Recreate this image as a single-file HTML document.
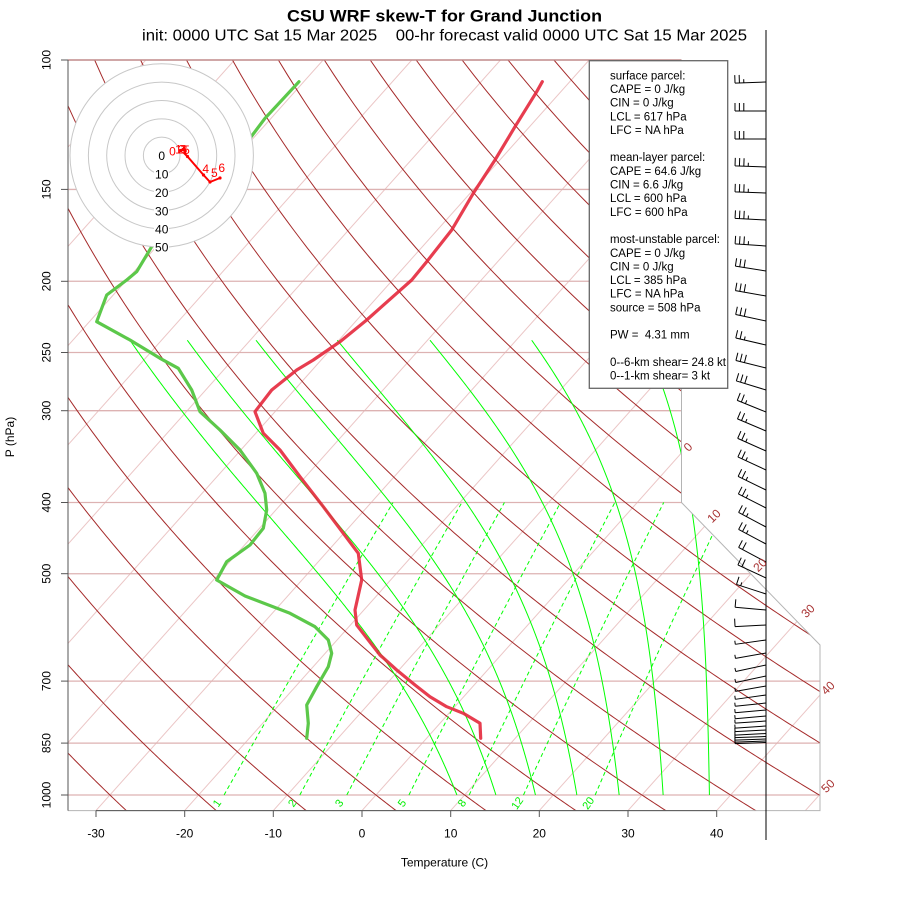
<!DOCTYPE html>
<html><head><meta charset="utf-8">
<style>
html,body{margin:0;padding:0;background:#fff;}
svg{display:block;font-family:"Liberation Sans",Arial,sans-serif;}
</style></head><body>
<svg width="900" height="900" viewBox="0 0 900 900" xmlns="http://www.w3.org/2000/svg">
<defs><clipPath id="cp"><polygon points="68,60 681.5,60 681.5,502.5 820,645 820,810.6 68,810.6"/></clipPath></defs>
<rect x="0" y="0" width="900" height="900" fill="#fff"/>
<g id="grid" clip-path="url(#cp)"></g>
<!-- top pressure line -->
<line x1="68" y1="60" x2="681.5" y2="60" stroke="#C08A8A" stroke-width="1.4"/>
<!-- boundary -->
<polyline points="681.5,60 681.5,502.5 820,645 820,810.6 68,810.6" fill="none" stroke="#B4B4B4" stroke-width="1"/>
<!-- axes -->
<line x1="68" y1="60" x2="68" y2="810.6" stroke="#555" stroke-width="1"/>
<line x1="96" y1="810.6" x2="717" y2="810.6" stroke="#555" stroke-width="1"/>
<g stroke="#555" stroke-width="1">
<line x1="61" y1="60" x2="68" y2="60"/><line x1="61" y1="189.4" x2="68" y2="189.4"/><line x1="61" y1="281.3" x2="68" y2="281.3"/><line x1="61" y1="352.5" x2="68" y2="352.5"/><line x1="61" y1="410.7" x2="68" y2="410.7"/><line x1="61" y1="502.5" x2="68" y2="502.5"/><line x1="61" y1="573.7" x2="68" y2="573.7"/><line x1="61" y1="681.1" x2="68" y2="681.1"/><line x1="61" y1="743.1" x2="68" y2="743.1"/><line x1="61" y1="795" x2="68" y2="795"/>
<line x1="96" y1="810.6" x2="96" y2="817"/><line x1="184.7" y1="810.6" x2="184.7" y2="817"/><line x1="273.3" y1="810.6" x2="273.3" y2="817"/><line x1="362" y1="810.6" x2="362" y2="817"/><line x1="450.7" y1="810.6" x2="450.7" y2="817"/><line x1="539.3" y1="810.6" x2="539.3" y2="817"/><line x1="628" y1="810.6" x2="628" y2="817"/><line x1="716.7" y1="810.6" x2="716.7" y2="817"/>
</g>
<!-- profiles -->
<path d="M542.3 81.7 L536.7 91.7 L515 126.7 L495 160 L473.3 193.3 L451.7 230 L426.7 261.7 L411.7 280 L396.7 293.3 L366.7 320 L340 341.7 L313.3 360 L296.7 370 L271.7 390 L255 411.7 L263.3 433.3 L280 450 L300 476.7 L323.3 506.7 L343.3 533.3 L358.3 553.3 L361.7 580 L355 610 L356.7 625 L368.3 640 L380 655 L396.7 670 L415 685 L430 696.7 L446.7 706.7 L463.3 713.3 L480 723.3 L480.7 738.3" fill="none" stroke="#E4283C" stroke-width="3.2" stroke-linejoin="round" stroke-linecap="round" stroke-opacity="0.9"/>
<path d="M299 81.7 L265 118.3 L251.7 136 L151.7 246.7 L136.7 271.7 L126.7 280 L106.7 295 L96.7 321.7 L130 340 L160 358.3 L178.3 368.3 L191.7 390 L200 411.7 L220 430 L240 450 L256.7 473.3 L265 493.3 L266.7 510 L263.3 528.3 L250 545 L226.7 561.7 L216.7 580 L245 596 L290 613.3 L315 626.7 L328.3 640 L331.7 653.3 L328.3 666.7 L316.7 686.7 L306.7 705 L308.3 723.3 L306.7 738.3" fill="none" stroke="#5CC84A" stroke-width="3.2" stroke-linejoin="round" stroke-linecap="round"/>
<!-- hodograph -->
<circle cx="161.7" cy="155.5" r="91.7" fill="#fff" stroke="#C8C8C8" stroke-width="1"/>
<g fill="none" stroke="#C8C8C8" stroke-width="1">
<circle cx="161.7" cy="155.5" r="18.33"/><circle cx="161.7" cy="155.5" r="36.67"/><circle cx="161.7" cy="155.5" r="55"/><circle cx="161.7" cy="155.5" r="73.33"/>
</g>
<g fill="#fff"><rect x="154" y="169" width="15" height="10"/><rect x="154" y="187.5" width="15" height="10"/><rect x="154" y="206" width="15" height="10"/><rect x="154" y="224.5" width="15" height="10"/><rect x="154" y="242.5" width="15" height="10"/></g>
<g font-size="12" fill="#000" text-anchor="middle">
<text x="161.7" y="159.8">0</text><text x="161.7" y="178.3">10</text><text x="161.7" y="196.8">20</text><text x="161.7" y="215.3">30</text><text x="161.7" y="233.6">40</text><text x="161.7" y="251.6">50</text>
</g>
<path d="M180.5 150.5 L183 149.5 L185 151 L184 153 L187.5 156.5 L203.5 175 L210 182 L220 178" fill="none" stroke="#FF0000" stroke-width="2" stroke-linejoin="round"/>
<g fill="#FF0000"><circle cx="180.5" cy="150.5" r="1.6"/><circle cx="183" cy="149.5" r="1.6"/><circle cx="185" cy="151" r="1.6"/><circle cx="187.5" cy="156.5" r="1.6"/><circle cx="203.5" cy="175" r="1.6"/><circle cx="210" cy="182" r="1.6"/><circle cx="220" cy="178" r="1.6"/></g>
<g font-size="12" fill="#FF0000" text-anchor="middle">
<text x="172.5" y="155.3">0</text><text x="178.5" y="153.3">1</text><text x="181.5" y="153.3">2</text><text x="184" y="153.3">3</text><text x="186.5" y="153.8">5</text>
<text x="205.7" y="172.8">4</text><text x="214.3" y="176.8">5</text><text x="221.7" y="171.8">6</text>
</g>
<!-- info box -->
<rect x="589.3" y="60.7" width="138.4" height="327.6" fill="#fff" stroke="#666" stroke-width="1.3"/>
<g font-size="11.5" fill="#000">
<text x="610" y="79.3">surface parcel:</text>
<text x="610" y="93">CAPE = 0 J/kg</text>
<text x="610" y="106.6">CIN = 0 J/kg</text>
<text x="610" y="120.3">LCL = 617 hPa</text>
<text x="610" y="133.9">LFC = NA hPa</text>
<text x="610" y="161.2">mean-layer parcel:</text>
<text x="610" y="174.9">CAPE = 64.6 J/kg</text>
<text x="610" y="188.5">CIN = 6.6 J/kg</text>
<text x="610" y="202.2">LCL = 600 hPa</text>
<text x="610" y="215.8">LFC = 600 hPa</text>
<text x="610" y="243.1">most-unstable parcel:</text>
<text x="610" y="256.8">CAPE = 0 J/kg</text>
<text x="610" y="270.4">CIN = 0 J/kg</text>
<text x="610" y="284.1">LCL = 385 hPa</text>
<text x="610" y="297.7">LFC = NA hPa</text>
<text x="610" y="311.4">source = 508 hPa</text>
<text x="610" y="338.7" xml:space="preserve">PW =  4.31 mm</text>
<text x="610" y="366">0--6-km shear= 24.8 kt</text>
<text x="610" y="379.6">0--1-km shear= 3 kt</text>
</g>
<!-- wind staff and barbs -->
<line x1="766" y1="30" x2="766" y2="840" stroke="#000" stroke-width="1"/>
<g id="barbs"></g>
<!-- isotherm labels -->
<g font-size="12" fill="#A83232" text-anchor="middle">
<text transform="translate(688,447) rotate(-45)" dy="4">0</text>
<text transform="translate(714,516) rotate(-45)" dy="4">10</text>
<text transform="translate(760,565) rotate(-45)" dy="4">20</text>
<text transform="translate(808,611) rotate(-45)" dy="4">30</text>
<text transform="translate(828,688) rotate(-45)" dy="4">40</text>
<text transform="translate(828,786) rotate(-45)" dy="4">50</text>
</g>
<!-- mixing ratio labels -->
<g font-size="11" fill="#00EE00" text-anchor="middle">
<text transform="translate(216.7,803) rotate(-55)" dy="4">1</text>
<text transform="translate(292,803) rotate(-55)" dy="4">2</text>
<text transform="translate(339,803) rotate(-55)" dy="4">3</text>
<text transform="translate(401.7,803) rotate(-55)" dy="4">5</text>
<text transform="translate(461.7,803) rotate(-55)" dy="4">8</text>
<text transform="translate(517,803) rotate(-55)" dy="4">12</text>
<text transform="translate(588,803) rotate(-55)" dy="4">20</text>
</g>
<!-- pressure labels -->
<g font-size="12" fill="#000" text-anchor="middle">
<text transform="translate(50.5,60) rotate(-90)">100</text>
<text transform="translate(50.5,189.4) rotate(-90)">150</text>
<text transform="translate(50.5,281.3) rotate(-90)">200</text>
<text transform="translate(50.5,352.5) rotate(-90)">250</text>
<text transform="translate(50.5,410.7) rotate(-90)">300</text>
<text transform="translate(50.5,502.5) rotate(-90)">400</text>
<text transform="translate(50.5,573.7) rotate(-90)">500</text>
<text transform="translate(50.5,681.1) rotate(-90)">700</text>
<text transform="translate(50.5,743.1) rotate(-90)">850</text>
<text transform="translate(50.5,795) rotate(-90)">1000</text>
<text transform="translate(14,437) rotate(-90)">P (hPa)</text>
</g>
<g font-size="12" fill="#000" text-anchor="middle">
<text x="96" y="837.3">-30</text><text x="184.7" y="837.3">-20</text><text x="273.3" y="837.3">-10</text><text x="362" y="837.3">0</text><text x="450.7" y="837.3">10</text><text x="539.3" y="837.3">20</text><text x="628" y="837.3">30</text><text x="716.7" y="837.3">40</text>
<text x="444.5" y="866.3">Temperature (C)</text>
</g>
<!-- titles -->
<text x="287" y="21.5" font-size="17" font-weight="bold" textLength="315" lengthAdjust="spacingAndGlyphs">CSU WRF skew-T for Grand Junction</text>
<text x="142" y="40.5" font-size="16" textLength="605" lengthAdjust="spacingAndGlyphs" xml:space="preserve">init: 0000 UTC Sat 15 Mar 2025    00-hr forecast valid 0000 UTC Sat 15 Mar 2025</text>
</svg>
<script>
(function(){
const NS="http://www.w3.org/2000/svg";
function Y(p){return 60+735*Math.log10(p/100);}
function X(T,y){return 362+8.867*T+0.8933*(810.6-y);}
function mk(tag,attrs,parent){const e=document.createElementNS(NS,tag);for(const k in attrs)e.setAttribute(k,attrs[k]);parent.appendChild(e);return e;}
function pl(pts,attrs,parent){attrs.d='M'+pts.map(q=>q[0].toFixed(2)+' '+q[1].toFixed(2)).join(' L');attrs.fill='none';return mk('path',attrs,parent);}
const g=document.getElementById('grid');
// isotherms
for(let T=-110;T<=50;T+=10){pl([[X(T,810.6),810.6],[X(T,55),55]],{stroke:'#EBC6C6','stroke-width':1},g);}
// pressure lines
[150,200,250,300,400,500,700,850,1000].forEach(p=>{const y=Y(p);pl([[68,y],[821,y]],{stroke:'#DDB2B2','stroke-width':1.3},g);});
// dry adiabats
for(let th=-40;th<=190;th+=10){const pts=[];for(let p=1060;p>=95;p-=5){const T=(th+273.15)*Math.pow(p/1000,0.2857)-273.15;const y=Y(p);pts.push([X(T,y),y]);}pl(pts,{stroke:'#A52A2A','stroke-width':1},g);}
// moist adiabats (fitted)
function es(Tc){return 6.112*Math.exp(17.67*Tc/(Tc+243.5));}
function dTdp(T,p,f){const e=es(T-273.15);const rs=0.622*e/(p-e);const Rd=287.04,cp=1005.7,L=2.501e6*f;return (Rd*T+L*rs)/(p*(cp+L*L*rs*0.622/(Rd*T*T)));}
const PTOP=240.6;
function moist(T0,f){let T=T0+273.15,p=1000;const pts=[[X(T0,Y(1000)),Y(1000)]];while(p>PTOP+0.001){const step=Math.max(-2,PTOP-p);const k1=dTdp(T,p,f);const k2=dTdp(T+k1*step/2,p+step/2,f);T+=k2*step;p+=step;const y=Y(p);pts.push([X(T-273.15,y),y]);}return pts;}
[[9.13,130],[13.53,187.3],[17.99,256],[22.66,337.3],[27.43,430],[32.39,531.7],[37.61,644]].forEach(c=>{
 let lo=0.1,hi=1.6,pts=null;
 for(let it=0;it<40;it++){const m=(lo+hi)/2;pts=moist(c[0],m);const xt=pts[pts.length-1][0];if(xt>c[1])hi=m;else lo=m;}
 pts=moist(c[0],(lo+hi)/2);
 pl(pts,{stroke:'#00FF00','stroke-width':1},g);
});
// mixing ratio lines
[1,2,3,5,8,12,20].forEach(w=>{const pts=[];for(let p=1000;p>=400;p-=10){const e=w*p/(622+w);const l=Math.log(e/6.112);const Td=243.5*l/(17.67-l);const y=Y(p);pts.push([X(Td,y),y]);}pl(pts,{stroke:'#00FF00','stroke-width':1,'stroke-dasharray':'4 3'},g);});
// barbs
const B=[[82,-2,25],[111,0,30],[139,0,30],[167,2,35],[193,2,35],[220,3,35],[246,4,35],[271,9,30],[296,10,30],[321,12,30],[345,13,25],[368,14,30],[390,17,30],[412,22,25],[431,23,25],[451,24,25],[470,25,25],[490,26,25],[508,27,25],[527,28,25],[544,28,25],[562,28,20],[578,25,20],[594,18,15],[610,5,10],[625,-3,10],[640,-8,5],[653,-10,5],[665,-12,5],[676,-12,5],[686,-10,5],[695,-8,5],[703,-6,5],[710,-5,5],[716,-5,5],[721,-4,5],[726,-4,5],[730,-3,5],[733.5,-3,5],[736.5,-2,5],[739,-2,5],[741,-2,5],[742.5,-2,5]];
const bg=document.getElementById('barbs');
B.forEach(b=>{const y=b[0],a=b[1],sp=b[2];const r=a*Math.PI/180;const ux=-Math.cos(r),uy=-Math.sin(r);const L=31;const sx=766,sy=y;const tx=sx+L*ux,ty=sy+L*uy;let d='M'+sx+' '+sy+' L'+tx.toFixed(2)+' '+ty.toFixed(2);const nx=-uy,ny=ux;const n10=Math.floor(sp/10),n5=(sp%10>=5)?1:0;let i=0;for(let k=0;k<n10;k++,i++){const px=tx-ux*i*4.4,py=ty-uy*i*4.4;d+=' M'+px.toFixed(2)+' '+py.toFixed(2)+' L'+(px+nx*8).toFixed(2)+' '+(py+ny*8).toFixed(2);}if(n5){const px=tx-ux*i*4.4,py=ty-uy*i*4.4;d+=' M'+px.toFixed(2)+' '+py.toFixed(2)+' L'+(px+nx*3.6).toFixed(2)+' '+(py+ny*3.6).toFixed(2);}mk('path',{d:d,stroke:'#000','stroke-width':1,fill:'none'},bg);});
})();
</script>
</body></html>
